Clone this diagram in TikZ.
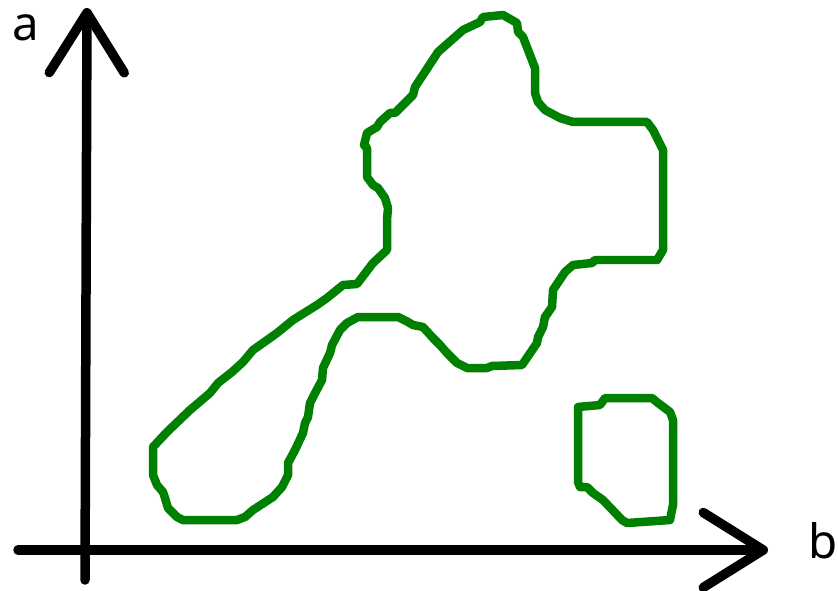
\documentclass[tikz,border=0pt]{standalone}
\usepackage{fontspec}
\setmainfont{Noto Sans}
\definecolor{blobgreen}{RGB}{0,128,0}
\usetikzlibrary{arrows.meta}

\tikzset{
  axisline/.style={line width=0.19cm, line cap=round, line join=round,
    -{Straight Barb[length=1.2cm, width=1.5cm, line cap=round, line join=round]}},
  regionline/.style={blobgreen, line width=0.17cm, line cap=round, line join=round},
  axislabel/.style={font=\fontsize{27}{30}\selectfont, inner sep=0pt}
}

\begin{document}
\begin{tikzpicture}[x=0.02cm, y=-0.02cm]
\useasboundingbox (0,0) rectangle (838,591);

% --- Axes ---
\coordinate (ybase) at (85,580);
\coordinate (ytip) at (87,8);
\coordinate (xbase) at (18,550);
\coordinate (xtip) at (768,550);
\draw[axisline] (ybase) -- (ytip);
\draw[axisline] (xbase) -- (xtip);
\node[axislabel] (alabel) at (26,28) {a};
\node[axislabel] (blabel) at (823,541) {b};

% --- Big region ---
\draw[regionline] (483,17) -- (503,15) -- (517,23) -- (518,32) -- (523,37)
  -- (535,68) -- (535,93) -- (538,102) -- (545,110) -- (560,118) -- (573,122)
  -- (647,122) -- (653,130) -- (663,150) -- (663,250) -- (657,260) -- (595,260)
  -- (592,263) -- (573,265) -- (565,272) -- (553,290) -- (552,307) -- (545,317)
  -- (543,327) -- (538,337) -- (537,343) -- (522,365) -- (492,366) -- (487,368)
  -- (467,368) -- (457,363) -- (447,353) -- (440,345) -- (433,338) -- (423,327)
  -- (413,325) -- (408,322) -- (398,317) -- (358,317) -- (347,323) -- (340,330)
  -- (332,345) -- (330,353) -- (323,368) -- (322,380) -- (313,397) -- (310,403)
  -- (308,417) -- (305,423) -- (303,433) -- (295,450) -- (288,463) -- (288,475)
  -- (282,487) -- (273,497) -- (253,510) -- (245,517) -- (237,520) -- (183,520)
  -- (177,517) -- (168,508) -- (165,498) -- (163,492) -- (157,485) -- (153,475)
  -- (153,447) -- (167,432) -- (190,410) -- (210,393) -- (218,383) -- (232,372)
  -- (243,362) -- (253,350) -- (263,343) -- (277,333) -- (293,320) -- (317,305)
  -- (327,298) -- (343,285) -- (357,284) -- (373,263) -- (387,250) -- (387,220)
  -- (388,208) -- (385,198) -- (378,188) -- (373,185) -- (367,177) -- (367,148)
  -- (364,145) -- (367,133) -- (377,127) -- (380,122) -- (390,113) -- (395,113)
  -- (413,95) -- (415,87) -- (438,52) -- (463,30) -- (480,22) -- cycle;

% --- Small region ---
\draw[regionline] (578,407) -- (600,405) -- (605,398) -- (652,398) -- (658,403)
  -- (670,412) -- (673,420) -- (673,505) -- (670,520) -- (627,523) -- (622,520)
  -- (603,500) -- (593,493) -- (587,487) -- (580,487) -- (578,482) -- cycle;

\end{tikzpicture}
\end{document}
